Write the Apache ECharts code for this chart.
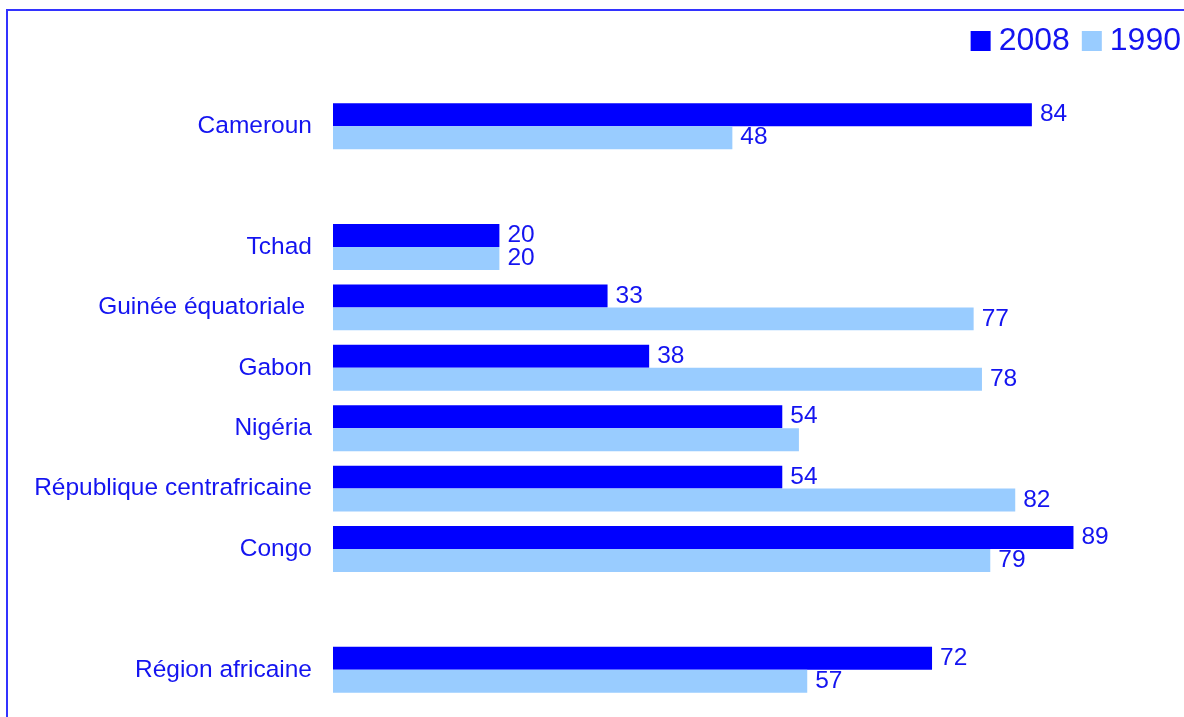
<!DOCTYPE html>
<html>
<head>
<meta charset="utf-8">
<script src="https://cdn.jsdelivr.net/npm/echarts@6/dist/echarts.min.js"></script>
<style>
html,body{margin:0;padding:0;background:#fff;}
#c{width:1184px;height:717px;}
</style>
</head>
<body>
<div id="c"></div>
<script>
const categories = ['Cameroun', '', 'Tchad', 'Guinée équatoriale ', 'Gabon', 'Nigéria', 'République centrafricaine', 'Congo', '', 'Région africaine'];
const values2008 = [84, null, 20, 33, 38, 54, 54, 89, null, 72];
const values1990 = [48, null, 20, 77, 78, 56, 82, 79, null, 57];
const hiddenLabels1990 = ['Nigéria'];
const seriesNames = ['2008', '1990'];

const textColor = '#1414F0';
const font = 'Liberation Sans, Arial, sans-serif';

const chart = echarts.init(document.getElementById('c'));

function mkData(vals, hidden) {
  return vals.map((v, i) => {
    if (hidden && hidden.includes(categories[i])) return { value: v, label: { show: false } };
    return v;
  });
}

const labelStyle = {
  show: true,
  position: 'right',
  distance: 8,
  color: textColor,
  fontSize: 24.5,
  fontFamily: font
};

chart.setOption({
  animation: false,
  backgroundColor: '#fff',
  graphic: [{
    type: 'rect',
    shape: { x: 7, y: 10, width: 1220, height: 760 },
    style: { fill: 'none', stroke: '#3333FF', lineWidth: 2 },
    silent: true
  }],
  legend: {
    right: -2,
    top: 20,
    itemWidth: 20,
    itemHeight: 20,
    itemGap: 12,
    icon: 'rect',
    textStyle: { color: textColor, fontSize: 32, fontFamily: font, padding: [0, 0, 0, 3] },
    data: seriesNames
  },
  grid: { left: 333, right: 19, top: 96, bottom: 17, containLabel: false },
  xAxis: {
    type: 'value', min: 0, max: 100,
    show: false
  },
  yAxis: {
    type: 'category',
    inverse: true,
    data: categories,
    axisLine: { show: false },
    axisTick: { show: false },
    axisLabel: { color: textColor, fontSize: 24.5, fontFamily: font, margin: 21 }
  },
  series: [
    {
      name: seriesNames[0], type: 'bar', data: mkData(values2008),
      itemStyle: { color: '#0000FF' },
      barGap: '0%', barCategoryGap: '24%',
      label: labelStyle
    },
    {
      name: seriesNames[1], type: 'bar', data: mkData(values1990, hiddenLabels1990),
      itemStyle: { color: '#99CCFF' },
      barGap: '0%', barCategoryGap: '24%',
      label: labelStyle
    }
  ]
});
</script>
</body>
</html>
